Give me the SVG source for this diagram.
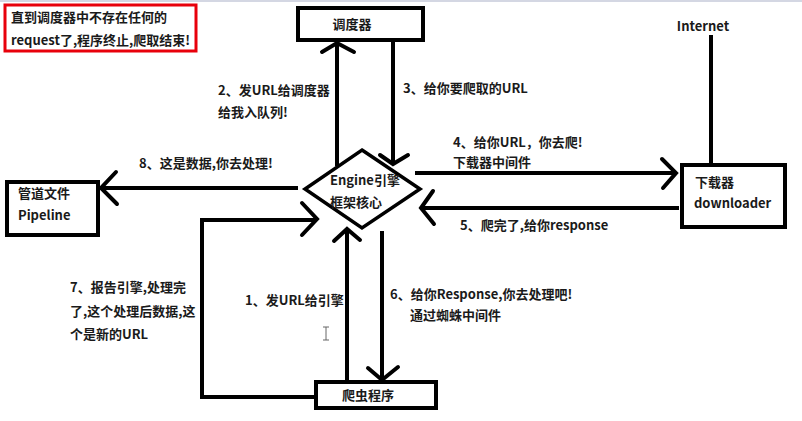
<svg xmlns="http://www.w3.org/2000/svg" width="802" height="421" viewBox="0 0 802 421">
  <style>
    .t { font-family: "Noto Sans CJK SC", "Liberation Sans", sans-serif; font-size: 13px; font-weight: bold; fill: #1a1a1a; }
    .box { fill: #fff; stroke: #000; stroke-width: 4; }
    .ln { fill: none; stroke: #000; stroke-width: 4; stroke-linejoin: miter; }
    .hd { fill: none; stroke: #000; stroke-width: 4; stroke-linecap: round; stroke-linejoin: miter; }
  </style>
  <rect x="0" y="0" width="802" height="421" fill="#fff"/>
  <rect x="0" y="0" width="802" height="2" fill="#d4d7e3"/>

  <!-- connectors -->
  <g id="connectors">
    <!-- 2: engine to scheduler -->
    <line class="ln" x1="337" y1="43" x2="337" y2="166"/>
    <polyline class="hd" points="322,52 337,43 354,52"/>
    <!-- 3: scheduler to engine -->
    <line class="ln" x1="393" y1="40" x2="393" y2="164"/>
    <polyline class="hd" points="380,155 393,164 408,155"/>
    <!-- 4: engine to downloader -->
    <line class="ln" x1="415" y1="173" x2="676" y2="173"/>
    <polyline class="hd" points="662,159 676,173 663,188"/>
    <!-- 5: downloader to engine -->
    <line class="ln" x1="679" y1="208" x2="421" y2="208"/>
    <polyline class="hd" points="433,191 421,208 434,224"/>
    <!-- 8: engine to pipeline -->
    <line class="ln" x1="298" y1="188" x2="101" y2="188"/>
    <polyline class="hd" points="116,172 101,188 117,204"/>
    <!-- 7: spider back to engine -->
    <polyline class="ln" points="315,397 202,397 202,220 316,220"/>
    <polyline class="hd" points="302,203 317,219 302,235"/>
    <!-- 1: spider to engine -->
    <line class="ln" x1="347" y1="381" x2="347" y2="229"/>
    <polyline class="hd" points="334,241 347,229 360,240"/>
    <!-- 6: engine to spider -->
    <line class="ln" x1="382" y1="231" x2="382" y2="380"/>
    <polyline class="hd" points="368,368 382,380 398,367"/>
    <!-- internet link -->
    <line class="ln" x1="711" y1="35" x2="711" y2="165"/>
  </g>

  <g id="note">
    <rect x="5" y="5" width="191" height="46" fill="#fff" stroke="#e8000b" stroke-width="3"/>
    <text class="t" x="11" y="22">直到调度器中不存在任何的</text>
    <text class="t" x="11" y="45">request了,程序终止,爬取结束!</text>
  </g>

  <g id="scheduler">
    <rect class="box" x="298" y="8" width="125" height="32"/>
    <text class="t" x="352" y="29" text-anchor="middle">调度器</text>
  </g>

  <g id="engine">
    <polygon points="362,150 420,189 362,228 305,189" fill="#fff" stroke="#000" stroke-width="3.5"/>
    <text class="t" x="330" y="185">Engine引擎</text>
    <text class="t" x="330" y="207">框架核心</text>
  </g>

  <g id="pipeline">
    <rect class="box" x="7" y="182" width="91" height="53"/>
    <text class="t" x="18" y="198">管道文件</text>
    <text class="t" x="18" y="220">Pipeline</text>
  </g>

  <g id="downloader">
    <rect class="box" x="682" y="165" width="103" height="62"/>
    <text class="t" x="695" y="187">下载器</text>
    <text class="t" x="694" y="208">downloader</text>
  </g>

  <g id="spider">
    <rect class="box" x="316" y="382" width="120" height="26"/>
    <text class="t" x="368" y="400" text-anchor="middle">爬虫程序</text>
  </g>

  <g id="internet">
    <text class="t" x="703" y="31" text-anchor="middle">Internet</text>
  </g>

  <g id="labels">
    <text class="t" x="218" y="95">2、发URL给调度器</text>
    <text class="t" x="218" y="117">给我入队列!</text>
    <text class="t" x="403" y="93">3、给你要爬取的URL</text>
    <text class="t" x="453" y="147">4、给你URL，你去爬!</text>
    <text class="t" x="453" y="167">下载器中间件</text>
    <text class="t" x="460" y="230">5、爬完了,给你response</text>
    <text class="t" x="139" y="168">8、这是数据,你去处理!</text>
    <text class="t" x="70" y="292">7、报告引擎,处理完</text>
    <text class="t" x="70" y="316">了,这个处理后数据,这</text>
    <text class="t" x="70" y="339">个是新的URL</text>
    <text class="t" x="245" y="305">1、发URL给引擎</text>
    <text class="t" x="390" y="299">6、给你Response,你去处理吧!</text>
    <text class="t" x="410" y="320">通过蜘蛛中间件</text>
  </g>

  <!-- text cursor -->
  <path d="M323,327 h6 M326,327 v13 M323,340 h6" fill="none" stroke="#666" stroke-width="1"/>
</svg>
